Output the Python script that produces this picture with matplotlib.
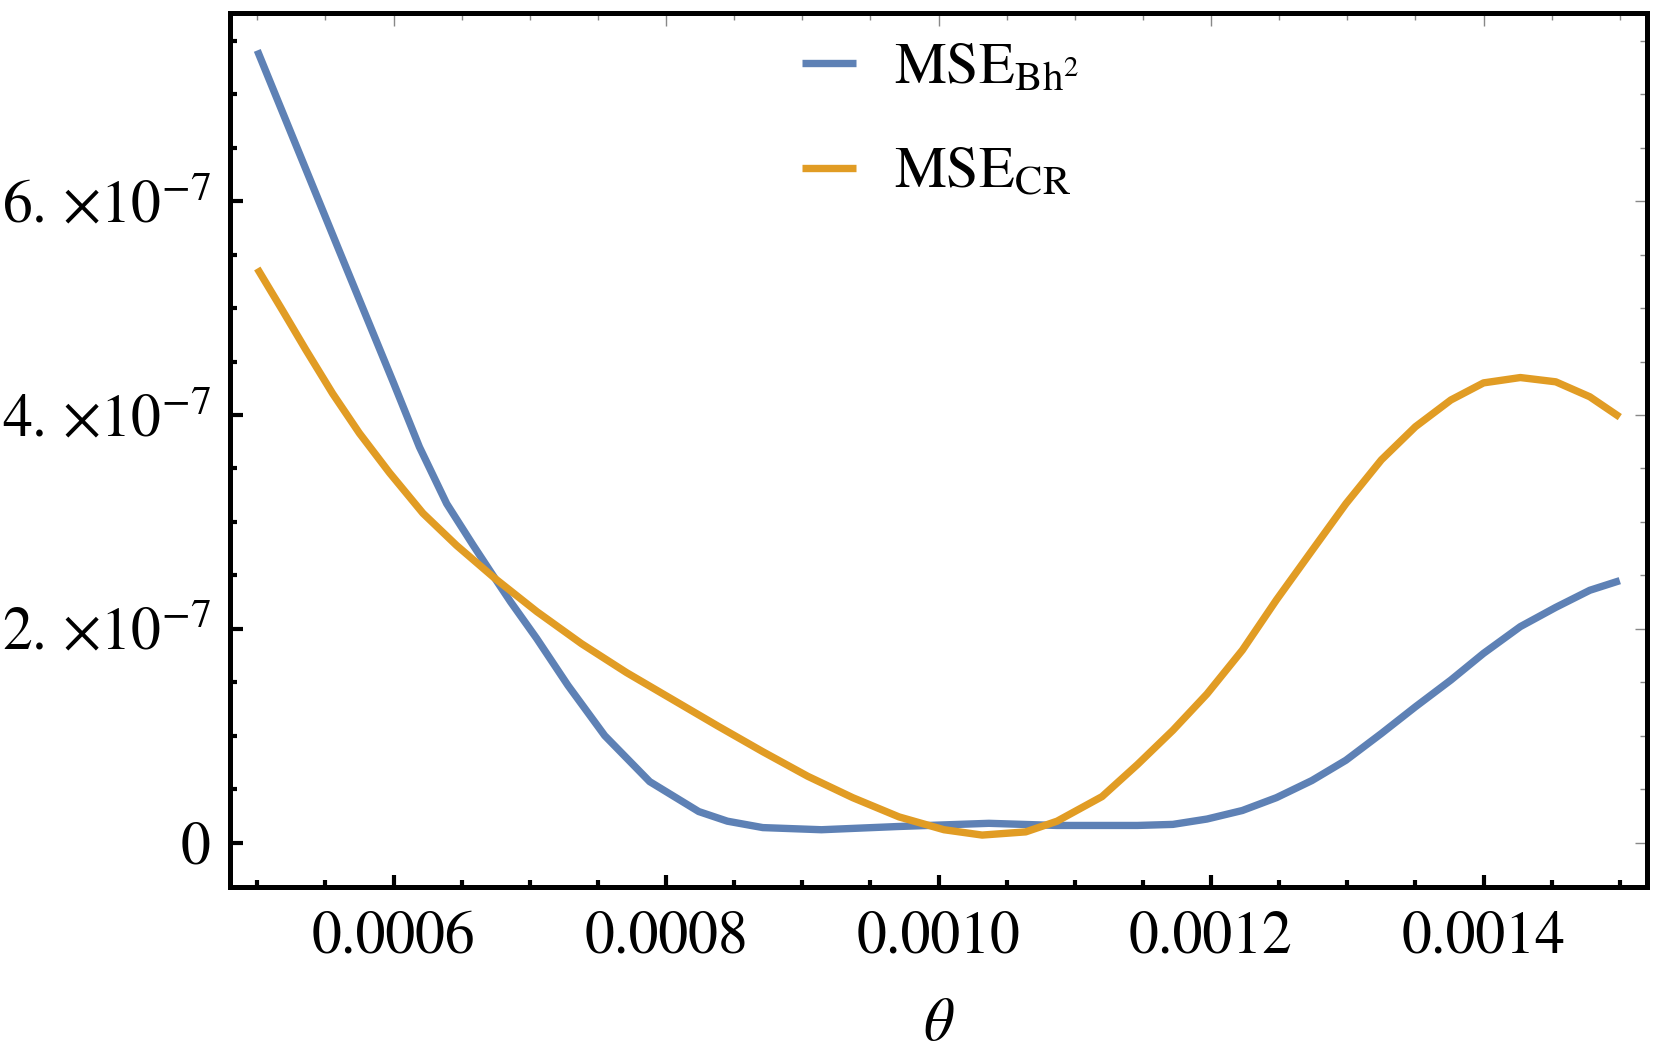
import numpy as np
import matplotlib
matplotlib.use("Agg")
import matplotlib.pyplot as plt
from matplotlib.ticker import MultipleLocator, FixedLocator, FixedFormatter

plt.rcParams['font.family'] = ['STIXGeneral', 'DejaVu Serif']
plt.rcParams['mathtext.fontset'] = 'stix'

# theta values and MSE curves (units of 1e-7)
theta_bh = [0.0005, 0.000525, 0.00056, 0.00058, 0.0006, 0.000619, 0.000639, 0.0006585,
            0.0006745, 0.000686, 0.000705, 0.000728, 0.000755, 0.000788, 0.000824,
            0.000845, 0.000871, 0.000914, 0.00097, 0.001037, 0.001087, 0.00112,
            0.001146, 0.001172, 0.001197, 0.001223, 0.001248, 0.001274, 0.001299,
            0.001325, 0.00135, 0.001376, 0.0014, 0.001427, 0.001453, 0.001478, 0.0015]
mse_bh = [7.41, 6.63, 5.54, 4.92, 4.30, 3.70, 3.17, 2.78,
          2.47, 2.25, 1.91, 1.47, 1.00, 0.57, 0.29,
          0.20, 0.14, 0.12, 0.15, 0.18, 0.16, 0.16,
          0.16, 0.17, 0.22, 0.30, 0.42, 0.58, 0.77,
          1.02, 1.27, 1.52, 1.77, 2.02, 2.20, 2.36, 2.45]

theta_cr = [0.0005, 0.0005184, 0.0005356, 0.0005553, 0.0005749, 0.000597, 0.0006216,
            0.0006462, 0.0006745, 0.0007052, 0.000738, 0.000771, 0.0008045, 0.000838,
            0.000871, 0.000904, 0.000937, 0.000971, 0.001004, 0.001032, 0.001064,
            0.001087, 0.00112, 0.001146, 0.001172, 0.001197, 0.001223, 0.001248,
            0.001274, 0.001299, 0.001325, 0.00135, 0.001376, 0.0014, 0.001427,
            0.001453, 0.001478, 0.0015]
mse_cr = [5.37, 4.98, 4.61, 4.20, 3.83, 3.46, 3.08,
          2.78, 2.47, 2.16, 1.86, 1.59, 1.34, 1.09,
          0.85, 0.62, 0.42, 0.24, 0.12, 0.07, 0.10,
          0.20, 0.43, 0.73, 1.05, 1.39, 1.80, 2.27,
          2.73, 3.17, 3.58, 3.89, 4.14, 4.30, 4.35,
          4.31, 4.17, 3.98]

labels = [r'$\mathrm{MSE}_{\mathrm{Bh}^2}$', r'$\mathrm{MSE}_{\mathrm{CR}}$']
colors = ['#5E81B5', '#E19C24']

xticks = [0.0006, 0.0008, 0.0010, 0.0012, 0.0014]
xtick_labels = ['0.0006', '0.0008', '0.0010', '0.0012', '0.0014']
yticks = [0, 2e-7, 4e-7, 6e-7]
ytick_labels = ['0', r'$2.\,{\times}10^{-7}$', r'$4.\,{\times}10^{-7}$',
                r'$6.\,{\times}10^{-7}$']

fig = plt.figure(figsize=(16.61, 10.58), dpi=100)
ax = fig.add_axes([0.1385, 0.1616, 0.9916 - 0.1385, 0.9877 - 0.1616])

ax.plot(theta_bh, np.array(mse_bh) * 1e-7, color=colors[0], lw=5.3, label=labels[0],
        solid_capstyle='butt', solid_joinstyle='round')
ax.plot(theta_cr, np.array(mse_cr) * 1e-7, color=colors[1], lw=5.3, label=labels[1],
        solid_capstyle='butt', solid_joinstyle='round')

ax.set_xlim(0.00048, 0.00152)
ax.set_ylim(-0.416e-7, 7.76e-7)

ax.xaxis.set_major_locator(FixedLocator(xticks))
ax.xaxis.set_major_formatter(FixedFormatter(xtick_labels))
ax.xaxis.set_minor_locator(MultipleLocator(0.00005))
ax.yaxis.set_major_locator(FixedLocator(yticks))
ax.yaxis.set_major_formatter(FixedFormatter(ytick_labels))
ax.yaxis.set_minor_locator(MultipleLocator(0.5e-7))

for s in ax.spines.values():
    s.set_linewidth(3.6)
    s.set_color('black')

ax.tick_params(which='major', direction='in', length=9, width=3, labelsize=43,
               color='black')
ax.tick_params(axis='x', which='major', pad=17)
ax.tick_params(axis='y', which='major', pad=14)
ax.tick_params(which='minor', direction='in', length=5, width=3, color='black')

# thin grey ticks on the top and right frame
secx = ax.secondary_xaxis('top')
secx.xaxis.set_major_locator(FixedLocator(xticks))
secx.xaxis.set_minor_locator(MultipleLocator(0.00005))
secx.tick_params(which='major', direction='in', length=9, width=1, color='#888888',
                 labeltop=False)
secx.tick_params(which='minor', direction='in', length=5, width=1, color='#888888')
secx.spines['top'].set_visible(False)

secy = ax.secondary_yaxis('right')
secy.yaxis.set_major_locator(FixedLocator(yticks))
secy.yaxis.set_minor_locator(MultipleLocator(0.5e-7))
secy.tick_params(which='major', direction='in', length=9, width=1, color='#888888',
                 labelright=False)
secy.tick_params(which='minor', direction='in', length=5, width=1, color='#888888')
secy.spines['right'].set_visible(False)

ax.set_xlabel(r'$\theta$', fontsize=43, labelpad=24)

ax.legend(loc='upper left', bbox_to_anchor=(0.383, 1.0), frameon=False, fontsize=42,
          handlelength=0.93, handletextpad=0.64, labelspacing=0.88, borderpad=0.2,
          borderaxespad=0.3)

fig.savefig('out.png', dpi=100)
